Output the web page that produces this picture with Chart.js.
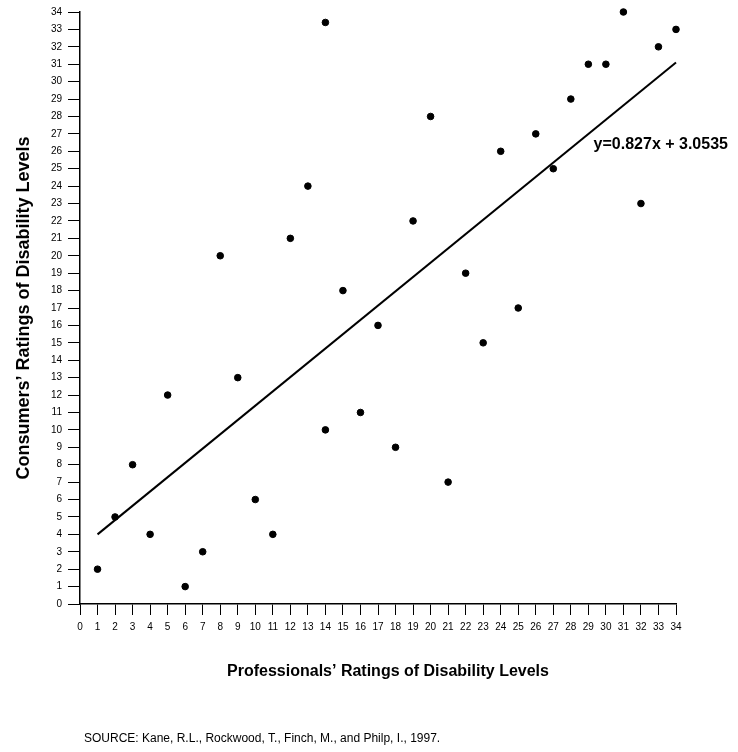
<!DOCTYPE html>
<html>
<head>
<meta charset="utf-8">
<script src="https://cdn.jsdelivr.net/npm/chart.js@4"></script>
<style>
  html, body { margin: 0; padding: 0; background: #fff; }
  #wrap { width: 738px; height: 752px; }
</style>
</head>
<body>
<div id="wrap"><canvas id="scatterChart" width="738" height="752"></canvas></div>
<script>
// Professionals' rating (x) vs consumers' rating (y)
const professionals = [1, 2, 3, 4, 5, 6, 7, 8, 9, 10, 11, 12, 13, 14, 14, 15, 16, 17,
    18, 19, 20, 21, 22, 23, 24, 25, 26, 27, 28, 29, 30, 31, 32, 33, 34];
const consumers = [2, 5, 8, 4, 12, 1, 3, 20, 13, 6, 4, 21, 24, 10, 33.4, 18, 11, 16,
    9, 22, 28, 7, 19, 15, 26, 17, 27, 25, 29, 31, 31, 34, 23, 32, 33];

// fitted line end points
const fitX = [1, 34];
const fitY = [4.0, 31.1];
const fitLabel = 'y=0.827x + 3.0535';

const xTitle = 'Professionals\u2019 Ratings of Disability Levels';
const yTitle = 'Consumers\u2019 Ratings of Disability Levels';
const sourceNote = 'SOURCE: Kane, R.L., Rockwood, T., Finch, M., and Philp, I., 1997.';

const tickFont = { family: 'Liberation Sans, Arial, sans-serif', size: 10 };
const titleFont = { family: 'Liberation Sans, Arial, sans-serif', size: 18, weight: 'bold' };

// extra text: x title, equation label and source line
const notesPlugin = {
    id: 'notes',
    afterDraw(chart) {
        const c = chart.ctx;
        const xs = chart.scales.x, ys = chart.scales.y;
        c.save();
        c.fillStyle = '#000';
        c.textBaseline = 'middle';
        c.font = 'bold 16px Liberation Sans, Arial, sans-serif';
        c.textAlign = 'center';
        c.fillText(xTitle, 388, 672);
        c.textAlign = 'left';
        c.fillText(fitLabel, xs.getPixelForValue(29.3), ys.getPixelForValue(26.4));
        c.font = '12px Liberation Sans, Arial, sans-serif';
        c.fillText(sourceNote, 84, 739);
        c.restore();
    }
};

const ctx = document.getElementById('scatterChart').getContext('2d');

const scatterChart = new Chart(ctx, {
    type: 'scatter',
    data: {
        datasets: [{
            label: 'Ratings',
            data: professionals.map((x, i) => ({ x: x, y: consumers[i] })),
            backgroundColor: '#000',
            borderColor: '#000',
            pointRadius: 3.3,
            clip: false
        }, {
            type: 'line',
            label: 'Fit',
            data: fitX.map((x, i) => ({ x: x, y: fitY[i] })),
            borderColor: '#000',
            borderWidth: 2,
            pointRadius: 0,
            fill: false,
            clip: false
        }]
    },
    options: {
        responsive: false,
        animation: false,
        layout: { padding: { top: 10, right: 62, left: 0, bottom: 0 } },
        plugins: {
            legend: { display: false },
            tooltip: { enabled: false }
        },
        scales: {
            x: {
                type: 'linear',
                min: 0,
                max: 34,
                afterFit(scale) { scale.height = 148; },
                grid: { drawOnChartArea: false, drawTicks: true, tickLength: 11, color: '#000', lineWidth: 1 },
                border: { color: '#000', width: 1.5 },
                ticks: { stepSize: 1, color: '#000', font: tickFont, padding: 6, maxRotation: 0, autoSkip: false }
            },
            y: {
                type: 'linear',
                min: 0,
                max: 34,
                afterFit(scale) { scale.width = 80; },
                grid: { drawOnChartArea: false, drawTicks: true, tickLength: 12, color: '#000', lineWidth: 1 },
                border: { color: '#000', width: 1.5 },
                ticks: { stepSize: 1, color: '#000', font: tickFont, padding: 6, autoSkip: false },
                title: {
                    display: true,
                    text: yTitle,
                    color: '#000',
                    font: titleFont,
                    padding: { top: 13, bottom: 0 }
                }
            }
        }
    },
    plugins: [notesPlugin]
});
</script>
</body>
</html>
